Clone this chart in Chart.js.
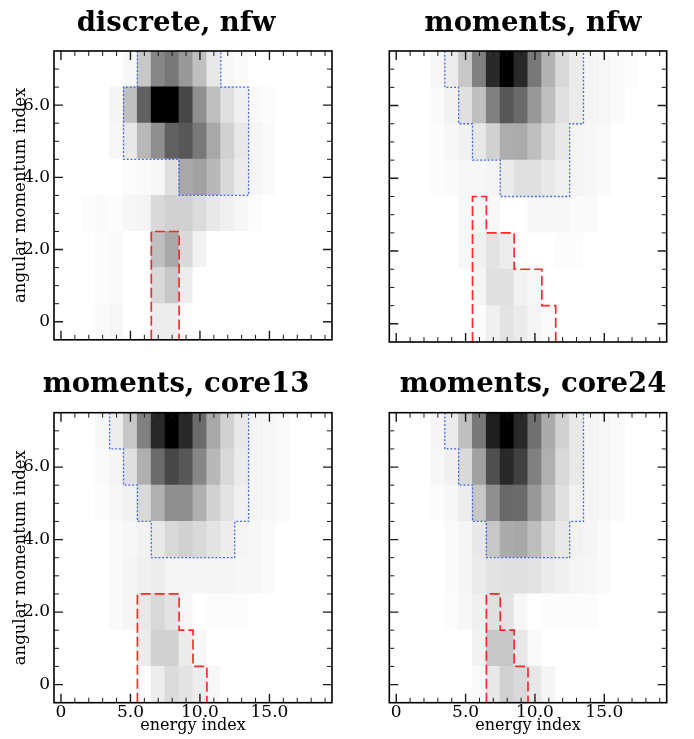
<!DOCTYPE html>
<html>
<head>
<meta charset="utf-8">
<script src="https://cdn.jsdelivr.net/npm/chart.js@4.4.0/dist/chart.umd.min.js"></script>
<style>
  html, body { margin: 0; padding: 0; background: #fff; }
  #wrap { position: relative; width: 694px; height: 739px; overflow: hidden; }
  canvas { position: absolute; }
</style>
</head>
<body>
<div id="wrap">
  <canvas id="p1" width="352" height="354" style="left:0px;top:0px"></canvas>
  <canvas id="p2" width="322" height="354" style="left:372px;top:0px"></canvas>
  <canvas id="p3" width="352" height="378" style="left:0px;top:361px"></canvas>
  <canvas id="p4" width="322" height="378" style="left:372px;top:361px"></canvas>
</div>
<script>
// bins
var energyIndex = [0,1,2,3,4,5,6,7,8,9,10,11,12,13,14,15,16,17,18,19];
var angularIndex = [0,1,2,3,4,5,6,7];
var xTickLabels = {0: '0', 5: '5.0', 10: '10.0', 15: '15.0'};
var yTickValues = [0,0.5,1,1.5,2,2.5,3,3.5,4,4.5,5,5.5,6,6.5,7];
var yTickLabels = {0: '0', 2: '2.0', 4: '4.0', 6: '6.0'};

// relative density (0..100), one row per angular momentum index, bottom row first
var discreteNfw = [
  [0,0,0,2,3,0,0,7,7,1,0,0,0,0,0,0,0,0,0,0],
  [0,0,0,1,2,0,0,15,22,7,0,0,0,0,0,0,0,0,0,0],
  [0,0,0,1,2,0,0,25,34,15,5,0,0,0,0,0,0,0,0,0],
  [0,0,1,2,1,3,4,15,18,18,14,9,6,3,1,0,0,0,0,0],
  [0,0,0,0,0,1,2,3,12,34,37,28,15,8,4,2,0,0,0,0],
  [0,0,0,0,3,9,28,44,62,66,53,34,18,9,4,2,0,0,0,0],
  [0,0,0,0,4,25,62,100,100,72,44,25,12,6,2,1,0,0,0,0],
  [0,0,0,0,0,3,22,47,53,40,25,9,3,2,0,0,0,0,0,0]
];
var momentsNfw = [
  [0,0,0,0,0,0,1,6,11,8,4,2,0,0,0,0,0,0,0,0],
  [0,0,0,0,0,0,4,12,12,5,3,0,0,0,0,0,0,0,0,0],
  [0,0,0,0,0,3,6,11,7,1,0,0,1,1,0,0,0,0,0,0],
  [0,0,0,0,0,3,3,3,0,0,3,3,3,2,2,0,0,0,0,0],
  [0,0,0,1,2,3,3,4,8,12,12,9,6,4,3,2,0,0,0,0],
  [0,0,0,1,3,5,9,18,32,33,25,15,9,4,3,2,0,0,0,0],
  [0,0,0,2,5,12,25,50,66,59,40,25,12,8,4,3,2,0,0,0],
  [0,0,0,3,7,22,50,84,100,84,53,30,15,8,4,3,2,1,0,0]
];
var momentsCore13 = [
  [0,0,0,0,0,0,1,7,14,11,7,3,0,0,0,0,0,0,0,0],
  [0,0,0,0,0,0,7,18,18,8,3,0,0,0,0,0,0,0,0,0],
  [0,0,0,0,2,4,9,15,11,3,0,1,1,1,0,0,0,0,0,0],
  [0,0,0,0,2,4,6,7,4,4,4,4,4,3,3,2,0,0,0,0],
  [0,0,0,0,2,3,5,9,15,18,15,11,7,4,3,2,0,0,0,0],
  [0,0,0,1,3,5,15,31,44,44,31,18,11,6,4,3,2,0,0,0],
  [0,0,0,2,4,12,31,58,72,66,47,28,15,8,4,3,2,0,0,0],
  [0,0,0,3,7,22,50,84,100,84,58,34,18,9,4,3,2,0,0,0]
];
var momentsCore24 = [
  [0,0,0,0,0,0,2,9,18,15,9,4,0,0,0,0,0,0,0,0],
  [0,0,0,0,0,0,5,22,22,9,2,0,0,0,0,0,0,0,0,0],
  [0,0,0,0,1,3,6,12,11,3,0,1,1,1,1,0,0,0,0,0],
  [0,0,0,0,2,4,8,11,12,12,11,8,6,4,3,2,0,0,0,0],
  [0,0,0,0,2,4,9,22,33,34,26,15,9,5,4,2,0,0,0,0],
  [0,0,0,1,3,7,22,44,59,58,40,25,12,6,4,3,2,0,0,0],
  [0,0,0,3,6,15,37,69,84,75,50,31,15,9,4,3,2,0,0,0],
  [0,0,0,4,8,25,53,88,100,84,56,33,18,9,4,3,2,0,0,0]
];

// contour outlines, in (energy, angular momentum) bin edges
var blueDiscreteNfw = [[5.5,7.5],[5.5,6.5],[4.5,6.5],[4.5,4.5],[8.5,4.5],[8.5,3.5],[13.5,3.5],[13.5,6.5],[11.5,6.5],[11.5,7.5]];
var redDiscreteNfw = [[6.5,-0.5],[6.5,2.5],[8.5,2.5],[8.5,-0.5]];
var blueMomentsNfw = [[3.5,7.5],[3.5,6.5],[4.5,6.5],[4.5,5.5],[5.5,5.5],[5.5,4.5],[7.5,4.5],[7.5,3.5],[12.5,3.5],[12.5,5.5],[13.5,5.5],[13.5,7.5]];
var redMomentsNfw = [[5.5,-0.5],[5.5,3.5],[6.5,3.5],[6.5,2.5],[8.5,2.5],[8.5,1.5],[10.5,1.5],[10.5,0.5],[11.5,0.5],[11.5,-0.5]];
var blueCore13 = [[3.5,7.5],[3.5,6.5],[4.5,6.5],[4.5,5.5],[5.5,5.5],[5.5,4.5],[6.5,4.5],[6.5,3.5],[12.5,3.5],[12.5,4.5],[13.5,4.5],[13.5,7.5]];
var redCore13 = [[5.5,-0.5],[5.5,2.5],[8.5,2.5],[8.5,1.5],[9.5,1.5],[9.5,0.5],[10.5,0.5],[10.5,-0.5]];
var blueCore24 = [[3.5,7.5],[3.5,6.5],[4.5,6.5],[4.5,5.5],[5.5,5.5],[5.5,4.5],[6.5,4.5],[6.5,3.5],[12.5,3.5],[12.5,4.5],[13.5,4.5],[13.5,7.5]];
var redCore24 = [[6.5,-0.5],[6.5,2.5],[7.5,2.5],[7.5,1.5],[8.5,1.5],[8.5,0.5],[9.5,0.5],[9.5,-0.5]];

var serif = "'DejaVu Serif', serif";

function grey(v) {
  var g = Math.round(255 * (1 - v / 100));
  return 'rgb(' + g + ',' + g + ',' + g + ')';
}

function outline(points, color, width, dash) {
  return {
    type: 'line',
    data: points.map(function(p) { return {x: p[0], y: p[1]}; }),
    borderColor: color,
    borderWidth: width,
    borderDash: dash,
    pointRadius: 0,
    fill: false,
    tension: 0,
    order: 0
  };
}

// inward tick marks on all four sides plus the frame
var frameTicks = {
  id: 'frameTicks',
  afterDraw: function(chart) {
    var ctx = chart.ctx, a = chart.chartArea;
    var x = chart.scales.x, y = chart.scales.y;
    ctx.save();
    ctx.strokeStyle = '#1a1a1a';
    x.ticks.forEach(function(t) {
      var px = x.getPixelForValue(t.value);
      var major = t.value % 5 === 0;
      var len = major ? 9 : 5;
      ctx.lineWidth = major ? 1.4 : 1;
      ctx.beginPath();
      ctx.moveTo(px, a.bottom); ctx.lineTo(px, a.bottom - len);
      ctx.moveTo(px, a.top); ctx.lineTo(px, a.top + len);
      ctx.stroke();
    });
    y.ticks.forEach(function(t) {
      var py = y.getPixelForValue(t.value);
      var major = t.value % 2 === 0;
      var len = major ? 9 : 5;
      ctx.lineWidth = major ? 1.4 : 1;
      ctx.beginPath();
      ctx.moveTo(a.left, py); ctx.lineTo(a.left + len, py);
      ctx.moveTo(a.right, py); ctx.lineTo(a.right - len, py);
      ctx.stroke();
    });
    ctx.lineWidth = 1.6;
    ctx.strokeStyle = '#000';
    ctx.strokeRect(a.left, a.top, a.right - a.left, a.bottom - a.top);
    ctx.restore();
  }
};

function panel(id, title, grid, blue, red, opts) {
  var datasets = [
    outline(red, 'rgba(255,20,20,0.9)', 1.7, [10, 4]),
    outline(blue, 'rgba(60,100,230,0.95)', 1.3, [2, 1.8])
  ];
  angularIndex.forEach(function(l, r) {
    datasets.push({
      type: 'bar',
      data: energyIndex.map(function(e) { return {x: e, y: [l - 0.5, l + 0.5]}; }),
      backgroundColor: grid[r].map(grey),
      borderWidth: 0,
      grouped: false,
      barPercentage: 1,
      categoryPercentage: 1,
      inflateAmount: 0.5,
      order: 1
    });
  });

  new Chart(document.getElementById(id), {
    type: 'bar',
    data: { datasets: datasets },
    options: {
      responsive: false,
      animation: false,
      layout: { padding: 0 },
      plugins: {
        legend: { display: false },
        tooltip: { enabled: false },
        title: {
          display: true,
          text: title,
          color: '#000',
          font: { family: serif, size: 27.5, weight: 'bold' },
          padding: { top: opts.titleTop, bottom: opts.titleBottom }
        }
      },
      scales: {
        x: {
          type: 'linear', min: -0.5, max: 19.5, offset: false,
          grid: { display: false, drawTicks: false, offset: false },
          border: { display: false },
          afterBuildTicks: function(s) { s.ticks = energyIndex.map(function(v) { return {value: v}; }); },
          afterFit: function(s) { s.height = opts.xHeight; },
          ticks: {
            display: opts.showX, autoSkip: false, maxRotation: 0, padding: 0,
            color: '#000', font: { family: serif, size: 17 },
            callback: function(v) { return xTickLabels[v] || ''; }
          },
          title: {
            display: opts.showX, text: 'energy index', color: '#000',
            font: { family: serif, size: 16 }, padding: { top: 0, bottom: 3.6 }
          }
        },
        y: {
          type: 'linear', min: -0.5, max: 7.5, position: 'left',
          grid: { display: false, drawTicks: false },
          border: { display: false },
          afterBuildTicks: function(s) { s.ticks = yTickValues.map(function(v) { return {value: v}; }); },
          afterFit: function(s) { s.width = opts.yWidth; },
          ticks: {
            display: opts.showY, autoSkip: false, padding: 4,
            color: '#000', font: { family: serif, size: 17 },
            callback: function(v) { return yTickLabels[v] || ''; }
          },
          title: {
            display: opts.showY, text: 'angular momentum index', color: '#000',
            font: { family: serif, size: 16.5 }, padding: { top: 11, bottom: 0 }
          }
        },
        y2: {
          type: 'linear', position: 'right', display: true,
          grid: { display: false, drawTicks: false },
          border: { display: false },
          ticks: { display: false },
          afterFit: function(s) { s.width = opts.rightWidth; }
        }
      }
    },
    plugins: [frameTicks]
  });
}

panel('p1', 'discrete, nfw', discreteNfw, blueDiscreteNfw, redDiscreteNfw,
  { showX: false, showY: true, yWidth: 54, rightWidth: 20, xHeight: 12, titleTop: 7.4, titleBottom: 10.6 });
panel('p2', 'moments, nfw', momentsNfw, blueMomentsNfw, redMomentsNfw,
  { showX: false, showY: false, yWidth: 17.3, rightWidth: 27.3, xHeight: 12, titleTop: 7.4, titleBottom: 10.6 });
panel('p3', 'moments, core13', momentsCore13, blueCore13, redCore13,
  { showX: true, showY: true, yWidth: 54, rightWidth: 20, xHeight: 36.3, titleTop: 7.4, titleBottom: 11.3 });
panel('p4', 'moments, core24', momentsCore24, blueCore24, redCore24,
  { showX: true, showY: false, yWidth: 17.3, rightWidth: 27.3, xHeight: 36.3, titleTop: 7.4, titleBottom: 11.3 });
</script>
</body>
</html>
